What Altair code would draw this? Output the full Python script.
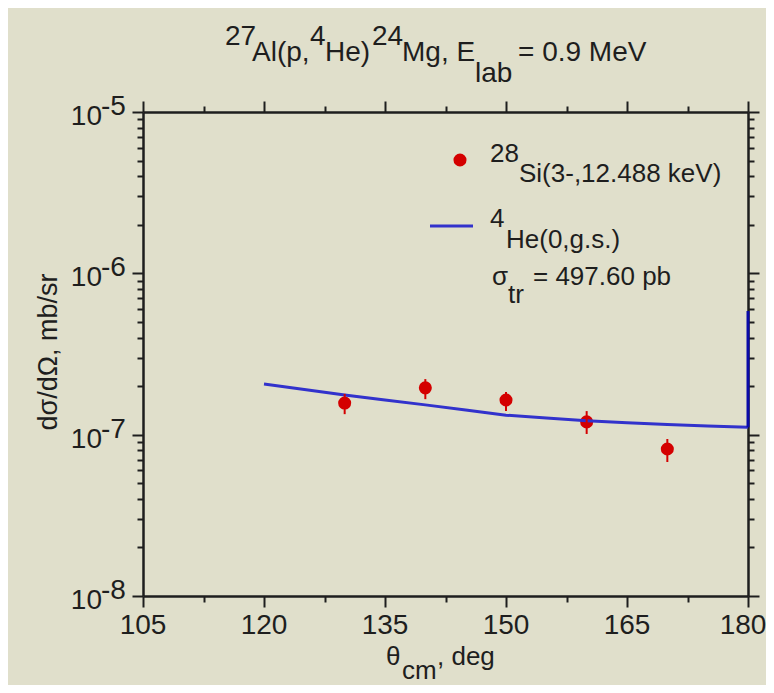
import altair as alt
import pandas as pd

# ---------------- data ----------------
exp_theta = [130, 140, 150, 160, 170]
exp_xs = [1.57e-7, 1.95e-7, 1.64e-7, 1.20e-7, 8.15e-8]
exp_up = [1.79e-7, 2.21e-7, 1.84e-7, 1.40e-7, 9.40e-8]
exp_lo = [1.34e-7, 1.66e-7, 1.40e-7, 1.01e-7, 6.77e-8]

th_theta = [120, 125, 130, 135, 140, 145, 150, 155, 160, 165, 170, 175, 180]
th_xs = [2.06e-7, 1.905e-7, 1.76e-7, 1.64e-7, 1.53e-7, 1.42e-7, 1.32e-7,
         1.27e-7, 1.22e-7, 1.186e-7, 1.155e-7, 1.131e-7, 1.11e-7]

spike_theta = [180, 180]
spike_xs = [1.11e-7, 5.84e-7]

x_major = [105, 120, 135, 150, 165, 180]
x_labels = ["105", "120", "135", "150", "165", "180"]
x_minor = [112.5, 127.5, 142.5, 157.5, 172.5]
y_major = [1e-8, 1e-7, 1e-6, 1e-5]
y_exp_labels = ["-8", "-7", "-6", "-5"]
y_minor_mult = [2, 3, 4, 5, 6, 7, 8, 9]

x_ticks = sorted(x_major + x_minor)
y_ticks = sorted(y_major + [m * d for d in y_major[:-1] for m in y_minor_mult])

exp_df = pd.DataFrame({"theta": exp_theta, "xs": exp_xs, "up": exp_up, "lo": exp_lo})
th_df = pd.DataFrame({"theta": th_theta, "xs": th_xs, "order": list(range(len(th_theta)))})
spike_df = pd.DataFrame({"theta": spike_theta, "xs": spike_xs, "order": [0, 1]})
xlab_df = pd.DataFrame({"theta": x_major, "label": x_labels})
ylab_df = pd.DataFrame({"xs": y_major, "exp": y_exp_labels})
one = pd.DataFrame({"k": [0]})

# ---------------- styles ----------------
INK = "#1e1e1e"
FONT = "Liberation Sans"
BG = "#e0dfcb"
RED = "#d40000"
BLUE = "#3232cc"
NAVY = "#0a0aa8"

xscale = alt.Scale(domain=[105, 180], nice=False, zero=False)
yscale = alt.Scale(type="log", domain=[1e-8, 1e-5], nice=False)

x_tick_size = {"condition": {"test": "datum.value % 15 === 0", "value": 11}, "value": 6}
y_tick_size = {"condition": {"test": "abs(log(datum.value)/LN10 - round(log(datum.value)/LN10)) < 0.001",
                             "value": 11}, "value": 6}


def xaxis(orient):
    return alt.Axis(orient=orient, values=x_ticks, labels=False, title=None, grid=False,
                    domainColor=INK, domainWidth=2.5, tickColor=INK, tickWidth=2,
                    tickSize=x_tick_size)


def yaxis(orient):
    return alt.Axis(orient=orient, values=y_ticks, labels=False, title=None, grid=False,
                    domainColor=INK, domainWidth=2.5, tickColor=INK, tickWidth=2,
                    tickSize=y_tick_size)


# ---------------- layers ----------------
points = alt.Chart(exp_df).mark_point(filled=True, size=170, color=RED, opacity=1).encode(
    x=alt.X("theta:Q", scale=xscale, axis=xaxis("bottom")),
    y=alt.Y("xs:Q", scale=yscale, axis=yaxis("left")),
)

errs = alt.Chart(exp_df).mark_rule(color=RED, strokeWidth=2).encode(
    x=alt.X("theta:Q", scale=xscale, axis=None),
    y=alt.Y("lo:Q", scale=yscale, axis=None),
    y2="up:Q",
)

line = alt.Chart(th_df).mark_line(color=BLUE, strokeWidth=3).encode(
    x=alt.X("theta:Q", scale=xscale, axis=xaxis("top")),
    y=alt.Y("xs:Q", scale=yscale, axis=yaxis("right")),
    order="order:Q",
)

spike = alt.Chart(spike_df).mark_line(color=NAVY, strokeWidth=3).encode(
    x=alt.X("theta:Q", scale=xscale, axis=None),
    y=alt.Y("xs:Q", scale=yscale, axis=None),
    order="order:Q",
)

xlabels_main = alt.Chart(xlab_df).mark_text(font=FONT, fontSize=28, color=INK, align="center",
                                             baseline="alphabetic").encode(
    x=alt.X("theta:Q", scale=xscale, axis=None),
    y=alt.value(522),
    text="label:N",
).transform_filter("datum.theta < 180")

xlabels_last = alt.Chart(xlab_df).mark_text(font=FONT, fontSize=28, color=INK, align="center",
                                             baseline="alphabetic", dx=-5).encode(
    x=alt.X("theta:Q", scale=xscale, axis=None),
    y=alt.value(522),
    text="label:N",
).transform_filter("datum.theta >= 180")

ylab_base = alt.Chart(ylab_df).mark_text(font=FONT, fontSize=28, color=INK, align="right",
                                          baseline="alphabetic", dy=13).encode(
    x=alt.value(-41),
    y=alt.Y("xs:Q", scale=yscale, axis=None),
    text=alt.value("10"),
)
ylab_exp = alt.Chart(ylab_df).mark_text(font=FONT, fontSize=28, color=INK, align="left",
                                         baseline="alphabetic", dy=3).encode(
    x=alt.value(-42),
    y=alt.Y("xs:Q", scale=yscale, axis=None),
    text="exp:N",
)


def txt(s, x, y, size=28, angle=None, align="left"):
    kw = dict(font=FONT, fontSize=size, color=INK, align=align, baseline="alphabetic")
    if angle is not None:
        kw["angle"] = angle
    return alt.Chart(one).mark_text(**kw).encode(
        x=alt.value(x), y=alt.value(y), text=alt.value(s))


annotations = [
    # title
    txt("27", 82, -67), txt("Al(p,", 109, -51), txt("4", 167, -67), txt("He)", 182, -51),
    txt("24", 229, -67), txt("Mg, E", 259, -51), txt("lab", 332, -30), txt("= 0.9 MeV", 375, -51),
    # x axis title
    txt("\u03b8", 243, 553, 26), txt("cm", 259, 567, 26), txt(", deg", 294, 553, 26),
    # y axis title
    txt("d\u03c3/d\u03a9, mb/sr", -86, 240, 27, angle=270, align="center"),
    # legend texts
    txt("28", 347, 50, 26), txt("Si(3-,12.488 keV)", 376, 70, 26),
    txt("4", 347, 115, 26), txt("He(0,g.s.)", 363, 136, 26),
    txt("\u03c3", 349, 173, 26), txt("tr", 365, 191, 26), txt("= 497.60 pb", 390, 173, 26),
]

leg_dot = alt.Chart(one).mark_point(filled=True, size=170, color=RED, opacity=1).encode(
    x=alt.value(317), y=alt.value(48))
leg_line = alt.Chart(one).mark_rule(color=BLUE, strokeWidth=3).encode(
    x=alt.value(287), x2=alt.value(330), y=alt.value(114))

chart = alt.layer(
    points, line, errs, spike, xlabels_main, xlabels_last, ylab_base, ylab_exp,
    leg_dot, leg_line, *annotations
).resolve_axis(x="independent", y="independent").properties(
    width=605, height=484,
    padding={"left": 135, "top": 104, "right": 18, "bottom": 89},
    autosize=alt.AutoSizeParams(type="none"),
).configure(background=BG).configure_view(stroke=None)

chart.save("out.html", embed_options={"renderer": "svg", "actions": False})
